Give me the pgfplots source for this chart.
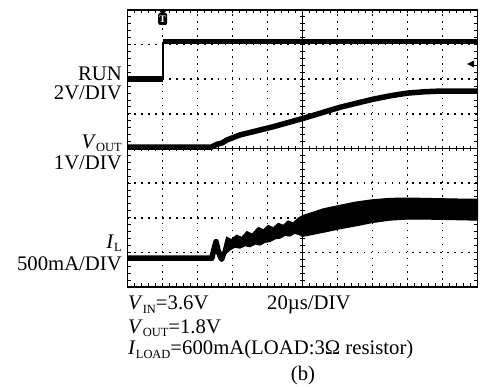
\documentclass[border=0pt]{standalone}
\usepackage{pgfplots}
\pgfplotsset{compat=1.18}
\usepackage{fontspec}
\setmainfont{Liberation Serif}
\newcommand\sub[1]{\raisebox{-0.15em}{\fontsize{12.5}{12.5}\selectfont #1}}
\begin{document}
\fontsize{20.8}{24}\selectfont
\begin{tikzpicture}
\begin{axis}[
  scale only axis, width=350bp, height=277bp,
  xmin=0, xmax=10, ymin=0, ymax=8,
  xtick={0,...,10}, ytick={0,...,8},
  xticklabel=\empty, yticklabel=\empty,
  minor tick num=4,
  tick align=inside,
  major tick length=3.5bp, minor tick length=3.5bp,
  tick style={black, line width=1bp},
  grid=major,
  major grid style={black, line width=1.6bp, dash pattern=on 1.6bp off 5.35bp},
  axis line style={line width=1.3bp},
  clip=false,
  extra x ticks={5}, extra y ticks={4},
  extra tick style={grid=major, major grid style={solid, black, line width=1.3bp}},
]
% center cross ticks
\addplot[only marks, mark=-, mark size=2.8bp, mark options={line width=1bp}] coordinates {
(5,0.2)(5,0.4)(5,0.6)(5,0.8)(5,1.2)(5,1.4)(5,1.6)(5,1.8)(5,2.2)(5,2.4)(5,2.6)(5,2.8)
(5,3.2)(5,3.4)(5,3.6)(5,3.8)(5,4.2)(5,4.4)(5,4.6)(5,4.8)(5,5.2)(5,5.4)(5,5.6)(5,5.8)
(5,6.2)(5,6.4)(5,6.6)(5,6.8)(5,7.2)(5,7.4)(5,7.6)(5,7.8)(5,1)(5,2)(5,3)(5,5)(5,6)(5,7)};
\addplot[only marks, mark=|, mark size=2.8bp, mark options={line width=1bp}] coordinates {
(0.2,4)(0.4,4)(0.6,4)(0.8,4)(1,4)(1.2,4)(1.4,4)(1.6,4)(1.8,4)(2,4)(2.2,4)(2.4,4)(2.6,4)(2.8,4)
(3,4)(3.2,4)(3.4,4)(3.6,4)(3.8,4)(4,4)(4.2,4)(4.4,4)(4.6,4)(4.8,4)(5.2,4)(5.4,4)(5.6,4)(5.8,4)
(6,4)(6.2,4)(6.4,4)(6.6,4)(6.8,4)(7,4)(7.2,4)(7.4,4)(7.6,4)(7.8,4)(8,4)(8.2,4)(8.4,4)(8.6,4)
(8.8,4)(9,4)(9.2,4)(9.4,4)(9.6,4)(9.8,4)};
% RUN
\addplot[black, line width=5.5bp] coordinates {(0,6.01)(1.006,6.01)};
\addplot[black, line width=1.6bp] coordinates {(1.006,6.01)(1.006,7.09)};
\addplot[black, line width=5.5bp] coordinates {(1.006,7.09)(10,7.09)};
% VOUT
\addplot[black, line width=5.5bp, line join=round] coordinates {
(0,4.04)(2.4,4.04)(2.55,4.12)(2.7,4.16)(2.85,4.25)(3.21,4.39)(4.17,4.63)(5.02,4.87)
(6.07,5.19)(7.0,5.42)(7.5,5.52)(8.0,5.6)(8.5,5.64)(9.0,5.66)(10,5.66)};
% IL
\addplot[black, line width=5.5bp, line join=round] coordinates {
(0,0.83)(2.41,0.83)(2.46,1.05)(2.53,1.31)(2.6,1.0)(2.69,0.80)(2.76,1.0)};
\addplot[black, fill=black, line width=1bp] coordinates {
(2.72,1.0)(2.83,1.44)(2.97,1.37)(3.12,1.50)(3.26,1.43)(3.41,1.60)(3.56,1.53)(3.74,1.72)
(3.88,1.65)(4.02,1.78)(4.16,1.71)(4.31,1.84)(4.45,1.78)(4.59,1.91)(4.73,1.85)(4.88,1.99)
(5.0,2.06)(5.3,2.16)(5.6,2.26)(6.07,2.36)(6.5,2.45)(7.0,2.52)(7.5,2.56)(8.0,2.57)
(8.5,2.56)(9.0,2.55)(9.5,2.54)(10,2.54)
(10,1.93)(9.5,1.94)(9.0,1.95)(8.5,1.96)(8.0,1.96)(7.5,1.93)(7.0,1.86)(6.5,1.76)
(6.07,1.68)(5.6,1.58)(5.3,1.52)(5.0,1.46)(4.93,1.50)(4.78,1.55)(4.64,1.47)(4.50,1.49)
(4.36,1.41)(4.22,1.39)(4.07,1.31)(3.93,1.29)(3.79,1.21)(3.65,1.24)(3.5,1.16)(3.36,1.19)
(3.21,1.12)(3.07,1.15)(2.93,1.07)(2.8,0.95)(2.72,1.0)} -- cycle;
% markers
\fill[black] (axis cs:0.886,8) -- (axis cs:1.126,8) -- (axis cs:1.006,7.86) -- cycle;
\node[fill=black, text=white, rounded corners=2bp, minimum width=9bp, minimum height=12bp,
  inner sep=0pt, font=\fontsize{10}{10}\selectfont\bfseries] at (axis cs:1.006,7.74) {T};
\fill[black] (axis cs:9.7,6.44) -- (axis cs:9.9,6.54) -- (axis cs:9.9,6.34) -- cycle;
% labels
\node[anchor=base east, inner sep=0pt] at (axis cs:-0.157,5.978) {RUN};
\node[anchor=base east, inner sep=0pt] at (axis cs:-0.157,5.401) {2V/DIV};
\node[anchor=base east, inner sep=0pt] at (axis cs:-0.157,4.0) {\textit{V}\sub{OUT}};
\node[anchor=base east, inner sep=0pt] at (axis cs:-0.157,3.379) {1V/DIV};
\node[anchor=base east, inner sep=0pt] at (axis cs:-0.157,1.11) {\textit{I}\sub{L}};
\node[anchor=base east, inner sep=0pt] at (axis cs:-0.157,0.477) {500mA/DIV};
\node[anchor=base west, inner sep=0pt] at (axis cs:0.014,-0.664) {\textit{V}\sub{IN}=3.6V};
\node[anchor=base west, inner sep=0pt] at (axis cs:3.986,-0.664) {20µs/DIV};
\node[anchor=base west, inner sep=0pt] at (axis cs:0.014,-1.329) {\textit{V}\sub{OUT}=1.8V};
\node[anchor=base west, inner sep=0pt] at (axis cs:0.014,-1.964) {\textit{I}\sub{LOAD}=600mA(LOAD:3Ω resistor)};
\node[anchor=base, inner sep=0pt] at (axis cs:5.014,-2.715) {(b)};
\coordinate (bl) at (axis cs:-3.6429,-2.8881);
\coordinate (tr) at (axis cs:10.0714,8.2888);
\end{axis}
\pgfresetboundingbox
\useasboundingbox (bl) rectangle (tr);
\end{tikzpicture}
\end{document}
